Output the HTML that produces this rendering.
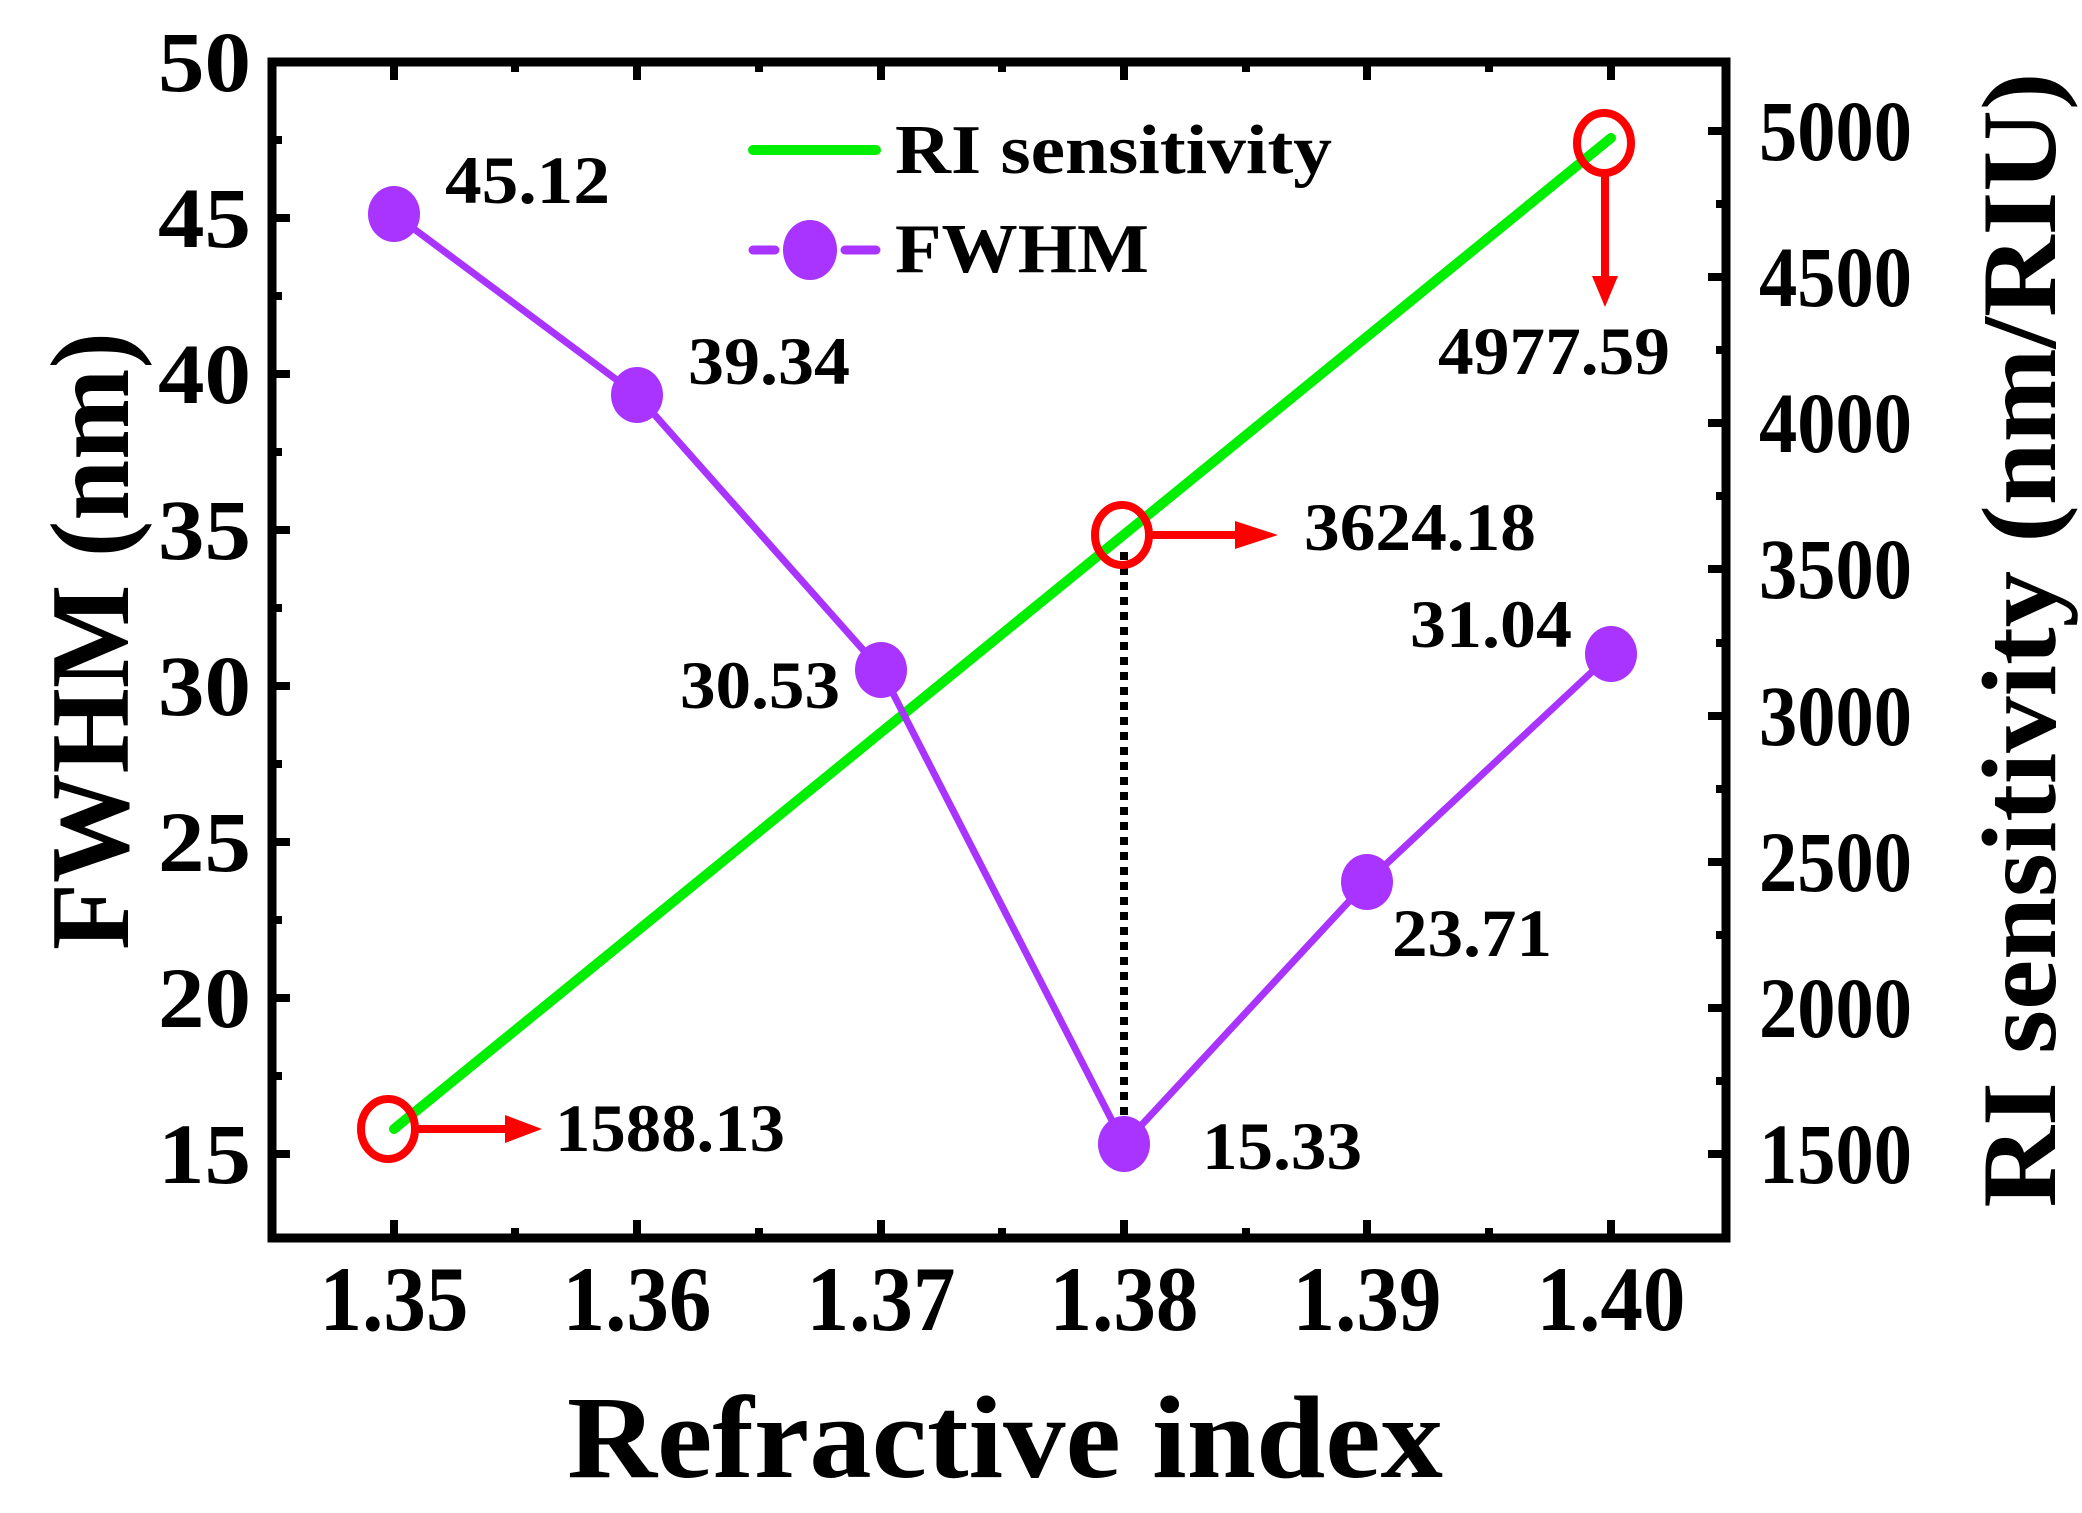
<!DOCTYPE html>
<html><head><meta charset="utf-8"><style>html,body{margin:0;padding:0;background:#fff}svg{display:block}</style></head>
<body>
<svg width="2082" height="1513" viewBox="0 0 2082 1513" xmlns="http://www.w3.org/2000/svg" font-family="Liberation Serif, serif" font-weight="bold">
<rect x="272" y="62" width="1454" height="1176" fill="none" stroke="#000" stroke-width="9"/>
<g stroke="#000" stroke-width="8">
<path d="M394 1238v-18M637 1238v-18M881 1238v-18M1124 1238v-18M1367 1238v-18M1611 1238v-18"/>
<path d="M515 1238v-10M759 1238v-10M1002 1238v-10M1246 1238v-10M1489 1238v-10"/>
<path d="M394 62v18M637 62v18M881 62v18M1124 62v18M1367 62v18M1611 62v18"/>
<path d="M515 62v10M759 62v10M1002 62v10M1246 62v10M1489 62v10"/>
<path d="M272 1154h18M272 998h18M272 842h18M272 686h18M272 530h18M272 374h18M272 218h18M272 62h18"/>
<path d="M272 1076h10M272 920h10M272 764h10M272 608h10M272 452h10M272 296h10M272 140h10"/>
<path d="M1726 1154h-18M1726 1008h-18M1726 862h-18M1726 716h-18M1726 569h-18M1726 423h-18M1726 277h-18M1726 131h-18"/>
<path d="M1726 1081h-10M1726 935h-10M1726 789h-10M1726 643h-10M1726 496h-10M1726 350h-10M1726 204h-10"/>
</g>
<g font-size="92" text-anchor="middle">
<text x="394" y="1330" textLength="149" lengthAdjust="spacingAndGlyphs">1.35</text><text x="637" y="1330" textLength="149" lengthAdjust="spacingAndGlyphs">1.36</text><text x="881" y="1330" textLength="149" lengthAdjust="spacingAndGlyphs">1.37</text>
<text x="1124" y="1330" textLength="149" lengthAdjust="spacingAndGlyphs">1.38</text><text x="1367" y="1330" textLength="149" lengthAdjust="spacingAndGlyphs">1.39</text><text x="1611" y="1330" textLength="149" lengthAdjust="spacingAndGlyphs">1.40</text>
</g>
<g font-size="86">
<text x="158" y="1183" textLength="93" lengthAdjust="spacingAndGlyphs">15</text><text x="158" y="1027" textLength="93" lengthAdjust="spacingAndGlyphs">20</text><text x="158" y="871" textLength="93" lengthAdjust="spacingAndGlyphs">25</text><text x="158" y="715" textLength="93" lengthAdjust="spacingAndGlyphs">30</text>
<text x="158" y="559" textLength="93" lengthAdjust="spacingAndGlyphs">35</text><text x="158" y="403" textLength="93" lengthAdjust="spacingAndGlyphs">40</text><text x="158" y="247" textLength="93" lengthAdjust="spacingAndGlyphs">45</text><text x="158" y="91" textLength="93" lengthAdjust="spacingAndGlyphs">50</text>
</g>
<g font-size="86">
<text x="1759" y="1183" textLength="153" lengthAdjust="spacingAndGlyphs">1500</text><text x="1759" y="1037" textLength="153" lengthAdjust="spacingAndGlyphs">2000</text><text x="1759" y="891" textLength="153" lengthAdjust="spacingAndGlyphs">2500</text><text x="1759" y="745" textLength="153" lengthAdjust="spacingAndGlyphs">3000</text>
<text x="1759" y="598" textLength="153" lengthAdjust="spacingAndGlyphs">3500</text><text x="1759" y="452" textLength="153" lengthAdjust="spacingAndGlyphs">4000</text><text x="1759" y="306" textLength="153" lengthAdjust="spacingAndGlyphs">4500</text><text x="1759" y="160" textLength="153" lengthAdjust="spacingAndGlyphs">5000</text>
</g>
<text x="1005" y="1477" font-size="118" text-anchor="middle" textLength="876" lengthAdjust="spacingAndGlyphs">Refractive index</text>
<text transform="translate(128,641) rotate(-90)" font-size="112" text-anchor="middle" textLength="618" lengthAdjust="spacingAndGlyphs">FWHM (nm)</text>
<text transform="translate(2055,640) rotate(-90)" font-size="106" text-anchor="middle" textLength="1135" lengthAdjust="spacingAndGlyphs">RI sensitivity (nm/RIU)</text>
<line x1="394" y1="1129" x2="1611" y2="138" stroke="#00ee00" stroke-width="10" stroke-linecap="round"/>
<line x1="1124" y1="552" x2="1124" y2="1125" stroke="#000" stroke-width="8" stroke-dasharray="8,7"/>
<polyline points="394,214 637,395 881,670 1124,1144 1367,882 1611,654" fill="none" stroke="#a933ff" stroke-width="7"/>
<g fill="#a933ff">
<ellipse cx="394" cy="214" rx="26" ry="28"/><ellipse cx="637" cy="395" rx="26" ry="28"/><ellipse cx="881" cy="670" rx="26" ry="28"/>
<ellipse cx="1124" cy="1144" rx="26" ry="28"/><ellipse cx="1367" cy="882" rx="26" ry="28"/><ellipse cx="1611" cy="654" rx="26" ry="28"/>
</g>
<g fill="none" stroke="#ff0000" stroke-width="8">
<ellipse cx="388" cy="1129" rx="27" ry="30"/>
<ellipse cx="1122" cy="535" rx="27" ry="30"/>
<ellipse cx="1604" cy="143" rx="27" ry="30"/>
<path d="M415 1129H510M1149 535H1240M1605 173V280"/>
</g>
<g fill="#ff0000">
<path d="M505 1115L542 1129L505 1143Z"/>
<path d="M1235 521L1278 535L1235 549Z"/>
<path d="M1592 276L1605 307L1618 276Z"/>
</g>
<g font-size="68">
<text x="445" y="203" textLength="165" lengthAdjust="spacingAndGlyphs">45.12</text>
<text x="688" y="384" textLength="162" lengthAdjust="spacingAndGlyphs">39.34</text>
<text x="680" y="708" textLength="160" lengthAdjust="spacingAndGlyphs">30.53</text>
<text x="1304" y="550" textLength="232" lengthAdjust="spacingAndGlyphs">3624.18</text>
<text x="1410" y="647" textLength="162" lengthAdjust="spacingAndGlyphs">31.04</text>
<text x="1392" y="956" textLength="160" lengthAdjust="spacingAndGlyphs">23.71</text>
<text x="1202" y="1169" textLength="160" lengthAdjust="spacingAndGlyphs">15.33</text>
<text x="555" y="1151" textLength="230" lengthAdjust="spacingAndGlyphs">1588.13</text>
<text x="1438" y="374" textLength="232" lengthAdjust="spacingAndGlyphs">4977.59</text>
</g>
<line x1="753" y1="150" x2="876" y2="150" stroke="#00ee00" stroke-width="10" stroke-linecap="round"/>
<text x="895" y="173" font-size="70" textLength="437" lengthAdjust="spacingAndGlyphs">RI sensitivity</text>
<path d="M753 250H775M845 250H876" stroke="#a933ff" stroke-width="9" stroke-linecap="round"/>
<ellipse cx="810" cy="250" rx="27" ry="30" fill="#a933ff"/>
<text x="895" y="272" font-size="70" textLength="254" lengthAdjust="spacingAndGlyphs">FWHM</text>
</svg>
</body></html>
